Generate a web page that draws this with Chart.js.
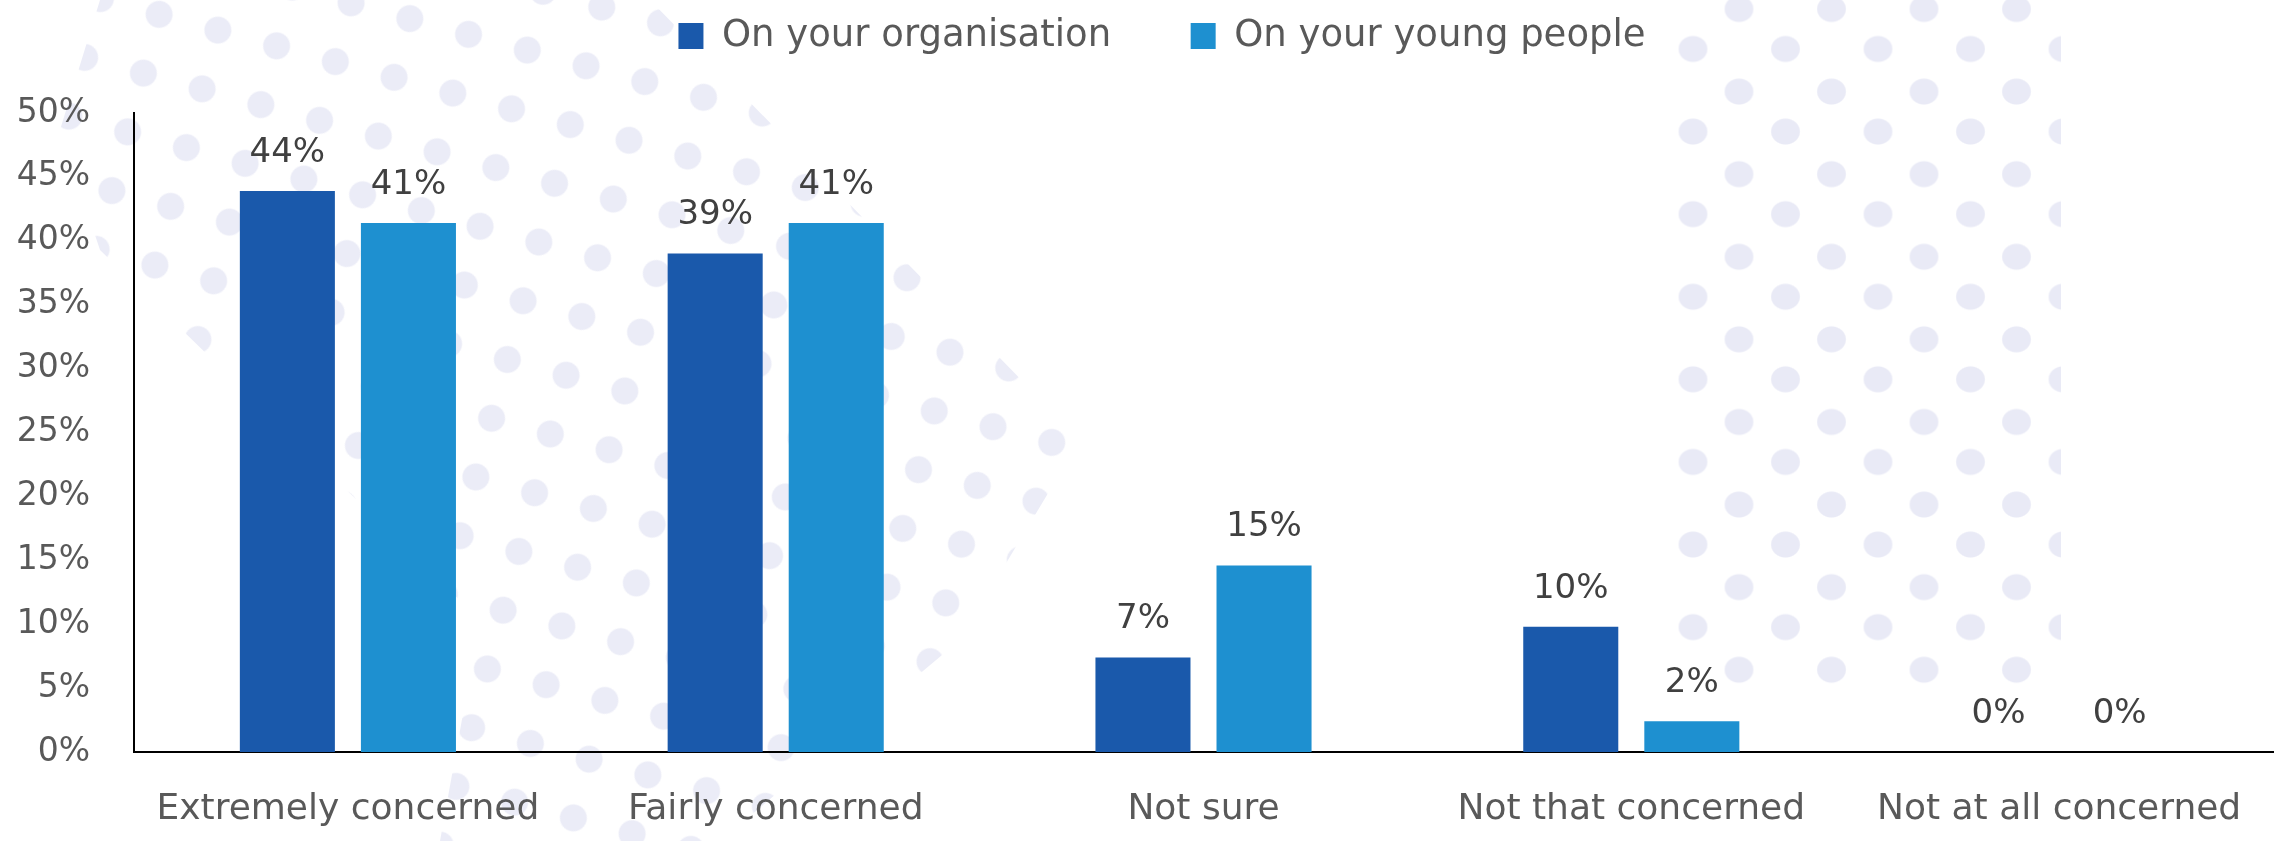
<!DOCTYPE html>
<html>
<head>
<meta charset="utf-8">
<script src="https://cdn.jsdelivr.net/npm/chart.js@4.4.1/dist/chart.umd.min.js"></script>
<style>
html,body{margin:0;padding:0;background:#fff;overflow:hidden}
#wrap{position:relative;width:2287px;height:841px}
#dotsR{position:absolute;left:1676px;top:0;width:385px;height:690px;
  background-image:
    radial-gradient(ellipse 15px 13.5px at center, #e9eaf6 92%, rgba(233,234,246,0) 100%),
    radial-gradient(ellipse 15px 13.5px at center, #e9eaf6 92%, rgba(233,234,246,0) 100%);
  background-size:92.5px 82.6px, 92.5px 82.6px;
  background-position:-29.25px 7.7px, 16.75px -32.3px;}
#dotsL{position:absolute;left:0;top:0;width:1150px;height:841px;overflow:hidden;
  clip-path:polygon(100px 0,650px 0,1080px 440px,960px 640px,720px 841px,440px 841px,480px 620px,100px 250px,60px 130px);}
#dotsL div{position:absolute;left:-700px;top:-700px;width:2600px;height:2400px;transform:rotate(-30deg);
  background-image:
    radial-gradient(circle 14px at center, #ebecf7 92%, rgba(235,236,247,0) 100%),
    radial-gradient(circle 14px at center, #ebecf7 92%, rgba(235,236,247,0) 100%);
  background-size:86px 86px, 86px 86px;
  background-position:0 0, 43px 43px;}
canvas{position:absolute;left:0;top:0}
</style>
</head>
<body>
<div id="wrap">
  <div id="dotsL"><div></div></div>
  <div id="dotsR"></div>
  <canvas id="c" width="2287" height="841"></canvas>
</div>
<script>
const categories = ['Extremely concerned', 'Fairly concerned', 'Not sure', 'Not that concerned', 'Not at all concerned'];
const seriesNames = ['On your organisation', 'On your young people'];
const organisationValues = [43.9, 39.0, 7.4, 9.8, 0];
const youngPeopleValues = [41.4, 41.4, 14.6, 2.4, 0];
const yTickLabels = ['0%', '5%', '10%', '15%', '20%', '25%', '30%', '35%', '40%', '45%', '50%'];
const seriesColors = ['#1a59ab', '#1e90d0'];

const FONT = '"DejaVu Sans", sans-serif';
Chart.defaults.font.family = FONT;

const valueLabels = {
  id: 'valueLabels',
  afterDatasetsDraw(chart) {
    const ctx = chart.ctx;
    ctx.save();
    ctx.font = '34px ' + FONT;
    ctx.fillStyle = '#404040';
    ctx.textAlign = 'center';
    ctx.textBaseline = 'middle';
    chart.data.datasets.forEach((ds, i) => {
      chart.getDatasetMeta(i).data.forEach((bar, j) => {
        ctx.fillText(Math.round(ds.data[j]) + '%', bar.x, bar.y - 38);
      });
    });
    ctx.restore();
  }
};

const legendFix = {
  id: 'legendFix',
  afterInit(chart) {
    const lg = chart.legend;
    const f = lg.fit.bind(lg);
    lg.fit = function () { f(); this.height = 175; };
  },
  afterLayout(chart) {
    chart.legend.left = 51;
    chart.legend.right = 2273;
  }
};

new Chart(document.getElementById('c'), {
  type: 'bar',
  data: {
    labels: categories,
    datasets: [
      { label: seriesNames[0], data: organisationValues, backgroundColor: seriesColors[0], categoryPercentage: 0.566, barPercentage: 0.785 },
      { label: seriesNames[1], data: youngPeopleValues, backgroundColor: seriesColors[1], categoryPercentage: 0.566, barPercentage: 0.785 }
    ]
  },
  options: {
    responsive: false,
    animation: false,
    layout: { padding: { top: -62, right: 14, bottom: 0, left: 0 } },
    plugins: {
      legend: {
        position: 'top',
        labels: { boxWidth: 25, boxHeight: 26, padding: 79.5, color: '#595959', font: { size: 37, family: FONT } }
      },
      tooltip: { enabled: false }
    },
    scales: {
      x: {
        grid: { display: false, drawTicks: false },
        border: { display: true, color: '#000', width: 2 },
        ticks: { color: '#595959', font: { size: 36, family: FONT }, padding: 36, maxRotation: 0, autoSkip: false },
        afterFit(s) { s.height = 89; }
      },
      y: {
        min: 0, max: 50,
        grid: { display: false, drawTicks: false },
        border: { display: true, color: '#000', width: 2 },
        ticks: { stepSize: 5, color: '#595959', font: { size: 33, family: FONT }, padding: 44,
                 callback: (v, i) => yTickLabels[i] },
        afterFit(s) { s.width = 134; }
      }
    }
  },
  plugins: [valueLabels, legendFix]
});
</script>
</body>
</html>
